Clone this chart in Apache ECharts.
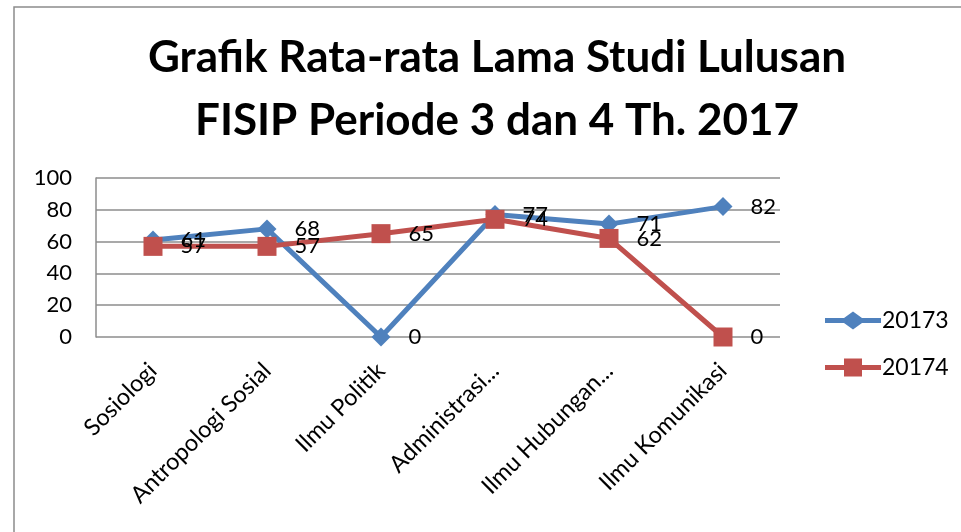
<!DOCTYPE html>
<html><head><meta charset="utf-8">
<script src="https://cdn.jsdelivr.net/npm/echarts@6/dist/echarts.min.js"></script>
<style>html,body{margin:0;padding:0;background:#fff}#c{width:961px;height:532px}</style>
</head><body><div id="c"></div>
<script>
var categories = ['Sosiologi', 'Antropologi Sosial', 'Ilmu Politik', 'Administrasi...', 'Ilmu Hubungan...', 'Ilmu Komunikasi'];
var series20173 = [61, 68, 0, 77, 71, 82];
var series20174 = [57, 57, 65, 74, 62, 0];
var yTicks = [0, 20, 40, 60, 80, 100];

var FONT = 'Lato';
var ICON_DIAMOND = 'path://M0,6.5 L19,6.5 L28,0 L37,6.5 L56,6.5 L56,11.5 L37,11.5 L28,18 L19,11.5 L0,11.5 Z';
var ICON_SQUARE = 'path://M0,6.5 L19,6.5 L19,0 L37,0 L37,6.5 L56,6.5 L56,11.5 L37,11.5 L37,18 L19,18 L19,11.5 L0,11.5 Z';
var chart = echarts.init(document.getElementById('c'));
var lbl = {show: true, position: 'right', distance: 18, color: '#000', fontSize: 22, fontFamily: FONT};
chart.setOption({
  animation: false,
  graphic: [{type: 'rect', shape: {x: 14, y: 7, width: 1000, height: 600}, style: {fill: 'none', stroke: '#8c8c8c', lineWidth: 1.5}, z: -1}],
  title: {
    text: 'Grafik Rata-rata Lama Studi Lulusan\nFISIP Periode 3 dan 4 Th. 2017',
    left: 492, top: 21, textAlign: 'center',
    textStyle: {fontFamily: FONT, fontWeight: 'bold', fontSize: 44, lineHeight: 63, color: '#000'}
  },
  legend: {
    orient: 'vertical', left: 820, top: 304, itemGap: 24, itemWidth: 56, itemHeight: 18,
    textStyle: {fontFamily: FONT, fontSize: 23, color: '#000', padding: [0, 0, 0, -4]},
    data: [{name: '20173', icon: ICON_DIAMOND}, {name: '20174', icon: ICON_SQUARE}]
  },
  grid: {left: 96, right: 181, top: 178, bottom: 195, containLabel: false},
  xAxis: {
    type: 'category', data: categories, boundaryGap: true,
    axisLine: {show: false}, axisTick: {show: false},
    axisLabel: {rotate: 45, fontFamily: FONT, fontSize: 23.5, color: '#000', margin: 30, interval: 0}
  },
  yAxis: {
    type: 'value', min: 0, max: 100, interval: 20,
    axisLine: {show: true, lineStyle: {color: '#8c8c8c', width: 1.5}},
    axisTick: {show: false},
    splitLine: {lineStyle: {color: '#8c8c8c', width: 1.5}},
    axisLabel: {fontFamily: FONT, fontSize: 22, color: '#000', margin: 24,
      formatter: function(v){ return yTicks.indexOf(v) >= 0 ? String(v) : ''; }}
  },
  series: [
    {name: '20173', type: 'line', data: series20173, symbol: 'diamond', symbolSize: 19,
     lineStyle: {color: '#4F81BD', width: 5, cap: 'round'}, itemStyle: {color: '#4F81BD'}, label: lbl},
    {name: '20174', type: 'line', data: series20174, symbol: 'rect', symbolSize: 19,
     lineStyle: {color: '#C0504D', width: 5, cap: 'round'}, itemStyle: {color: '#C0504D'}, label: lbl}
  ]
});
</script></body></html>
